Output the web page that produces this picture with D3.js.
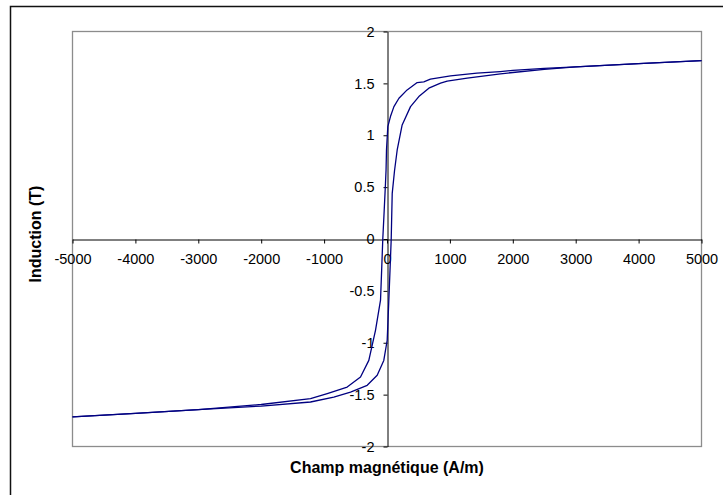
<!DOCTYPE html>
<html>
<head>
<meta charset="utf-8">
<script src="https://cdn.jsdelivr.net/npm/d3@7"></script>
<style>
  html, body { margin: 0; padding: 0; background: #fff; }
  svg { display: block; }
  text { font-family: "Liberation Sans", Arial, sans-serif; }
</style>
</head>
<body>
<svg id="chart" width="723" height="495"></svg>
<script>
// Descending branch (H from +5000 to -5000)
const descH = [5000, 4000, 3000, 2500, 2000, 1800, 1430, 1010, 690, 585, 480, 320, 190, 110, 55, 13, -8, -15, -24, -45, -67, -85, -103, -183, -289, -421, -633, -950, -1216, -2000, -3000, -4000, -5000];
const descB = [1.72, 1.69, 1.66, 1.645, 1.625, 1.614, 1.598, 1.572, 1.54, 1.515, 1.508, 1.437, 1.357, 1.276, 1.18, 1.083, 0.86, 0.665, 0.537, 0.27, 0, -0.3, -0.59, -0.88, -1.17, -1.33, -1.427, -1.49, -1.539, -1.595, -1.645, -1.68, -1.715];
// Ascending branch (H from -5000 to +5000)
const ascH = [-5000, -4000, -3000, -2000, -1216, -846, -580, -315, -156, -51, 3, 15, 29, 48, 67, 83, 120, 162, 241, 374, 506, 665, 851, 957, 1275, 1804, 2000, 2500, 3000, 4000, 5000];
const ascB = [-1.715, -1.68, -1.645, -1.61, -1.571, -1.523, -1.475, -1.41, -1.314, -1.17, -0.976, -0.8, -0.59, -0.3, 0, 0.44, 0.66, 0.858, 1.099, 1.276, 1.373, 1.454, 1.502, 1.521, 1.55, 1.592, 1.605, 1.635, 1.66, 1.69, 1.72];
const xTicks = [-5000, -4000, -3000, -2000, -1000, 0, 1000, 2000, 3000, 4000, 5000];
const yTicks = [-2, -1.5, -1, -0.5, 0, 0.5, 1, 1.5, 2];
const xTitle = "Champ magnétique (A/m)";
const yTitle = "Induction (T)";

const svg = d3.select("#chart");
const plot = {left: 72.5, top: 31.5, right: 701.5, bottom: 446.5};

// outer frame
svg.append("rect")
  .attr("x", 10.5).attr("y", 6.5).attr("width", 760).attr("height", 520)
  .attr("fill", "#fff").attr("stroke", "#111").attr("stroke-width", 1.5);

const x = d3.scaleLinear().domain([-5000, 5000]).range([plot.left, plot.right]);
const y = d3.scaleLinear().domain([-2, 2]).range([plot.bottom, plot.top]);

// plot area border
svg.append("rect")
  .attr("x", plot.left).attr("y", plot.top)
  .attr("width", plot.right - plot.left).attr("height", plot.bottom - plot.top)
  .attr("fill", "#fff").attr("stroke", "#8c8c8c").attr("stroke-width", 1.3);

const fmt = d => String(d);

// X axis at y=0
const gx = svg.append("g")
  .attr("transform", `translate(0,${Math.round(y(0)) + 0.5})`)
  .call(d3.axisBottom(x).tickValues(xTicks).tickFormat(fmt).tickSizeInner(4).tickSizeOuter(0).tickPadding(10));
// Y axis at x=0
const gy = svg.append("g")
  .attr("transform", `translate(${Math.round(x(0)) + 0.5},0)`)
  .call(d3.axisLeft(y).tickValues(yTicks).tickFormat(fmt).tickSizeInner(4).tickSizeOuter(0).tickPadding(9));

[gx, gy].forEach(g => {
  g.select(".domain").attr("stroke", "#000").attr("stroke-width", 1);
  g.selectAll(".tick line").attr("stroke", "#000");
  g.selectAll(".tick text").attr("font-family", "Liberation Sans, Arial, sans-serif")
    .attr("font-size", 14.5).attr("fill", "#000");
});
gx.selectAll(".tick text").attr("dy", "0.72em");

// curves
const line = d3.line().x(d => x(d[0])).y(d => y(d[1]));
const desc = descH.map((h, i) => [h, descB[i]]);
const asc = ascH.map((h, i) => [h, ascB[i]]);
[desc, asc].forEach(data => {
  svg.append("path").datum(data)
    .attr("d", line)
    .attr("fill", "none")
    .attr("stroke", "#000080")
    .attr("stroke-width", 1.3)
    .attr("stroke-linejoin", "round");
});

// titles
svg.append("text")
  .attr("x", 387).attr("y", 473)
  .attr("text-anchor", "middle")
  .attr("font-size", 16).attr("font-weight", "bold")
  .text(xTitle);

svg.append("text")
  .attr("transform", "translate(41,234) rotate(-90)")
  .attr("text-anchor", "middle")
  .attr("font-size", 16).attr("font-weight", "bold")
  .text(yTitle);
</script>
</body>
</html>
